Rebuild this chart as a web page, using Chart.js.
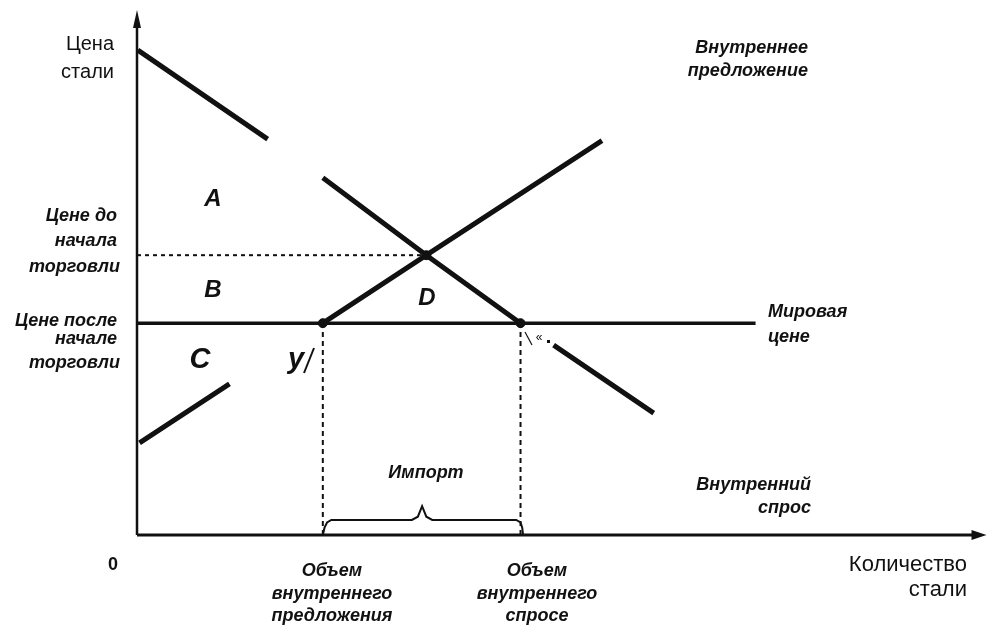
<!DOCTYPE html>
<html>
<head>
<meta charset="utf-8">
<script src="https://cdn.jsdelivr.net/npm/chart.js@4"></script>
<style>
html,body{margin:0;padding:0;background:#fff;}
#wrap{width:991px;height:627px;position:relative;}
</style>
</head>
<body>
<div id="wrap"><canvas id="c" width="991" height="627"></canvas></div>
<script>
// ---- data (quantity 0..100, price 0..100 conceptual units) ----
const demandQ = [0.1, 15.4, 18.0, 21.9, 34.1, 45.2, 47.0, 49.1, 60.9];
const demandP = [92.7, 75.7, null, 68.3, 53.5, 40.5, null, 36.3, 23.3];
const supplyQ = [0.3, 10.9, 16.0, 21.9, 34.1, 54.8];
const supplyP = [17.6, 28.9, null, 40.5, 53.5, 75.4];
const worldPrice = 40.5;
const worldLineEnd = 72.9;
const preTradePrice = 53.5;
const equilibriumQ = 34.1;
const domesticSupplyQ = 21.9;
const domesticDemandQ = 45.2;
const braceQ = [21.9, 22.1, 22.4, 22.9, 32.4, 33.1, 33.6, 34.1, 34.8, 44.7, 45.2, 45.4, 45.5];
const braceP = [0, 1.4, 2.4, 2.87, 2.87, 3.5, 5.5, 3.5, 2.87, 2.87, 2.4, 1.4, 0];

const pts = (xs, ys) => xs.map((x, i) => ({x: x, y: ys[i]}));
const INK = '#111';

const base = {showLine: true, pointRadius: 0, fill: false, borderColor: INK, tension: 0, spanGaps: false, clip: false};

const labelPlugin = {
  id: 'labels',
  afterDatasetsDraw(chart) {
    const ctx = chart.ctx;
    const xs = chart.scales.x, ys = chart.scales.y;
    ctx.save();
    ctx.fillStyle = INK;
    ctx.strokeStyle = INK;
    // arrowheads
    const ax = xs.getPixelForValue(0), ay = ys.getPixelForValue(100);
    ctx.beginPath(); ctx.moveTo(ax, ay - 2); ctx.lineTo(ax - 4, ay + 16); ctx.lineTo(ax + 4, ay + 16); ctx.closePath(); ctx.fill();
    const bx = xs.getPixelForValue(100), by = ys.getPixelForValue(0);
    ctx.beginPath(); ctx.moveTo(bx + 1, by); ctx.lineTo(bx - 14, by - 5); ctx.lineTo(bx - 14, by + 5); ctx.closePath(); ctx.fill();

    const BI = (s) => 'italic bold ' + s + 'px "Liberation Sans", Arial, sans-serif';
    const N = (s) => s + 'px "Liberation Sans", Arial, sans-serif';
    const T = (txt, x, y, font, align, sx) => {
      ctx.save();
      ctx.font = font; ctx.textAlign = align || 'left'; ctx.textBaseline = 'middle';
      ctx.translate(x, y); ctx.scale(sx || 1, 1);
      ctx.fillText(txt, 0, 0);
      ctx.restore();
    };
    T('Цена', 114, 44, N(20), 'right');
    T('стали', 114, 72, N(20), 'right');
    T('Внутреннее', 808, 48, BI(18), 'right');
    T('предложение', 808, 71, BI(18), 'right');
    T('Цене до', 117, 216, BI(18), 'right');
    T('начала', 117, 241, BI(18), 'right');
    T('торговли', 120, 267, BI(18), 'right');
    T('Цене после', 117, 321, BI(18), 'right');
    T('начале', 117, 339, BI(18), 'right');
    T('торговли', 120, 363, BI(18), 'right');
    T('A', 213, 199, BI(24), 'center');
    T('B', 213, 290, BI(24), 'center');
    T('C', 200, 360, BI(29), 'center');
    T('D', 427, 298, BI(24), 'center');
    T('у', 296, 360, BI(29), 'center');
    ctx.lineWidth = 2;
    ctx.beginPath(); ctx.moveTo(304, 373); ctx.lineTo(314, 348); ctx.stroke();
    ctx.lineWidth = 1.2;
    ctx.beginPath(); ctx.moveTo(525, 332); ctx.lineTo(532, 345); ctx.stroke();
    T('«', 539, 338, N(12), 'center');
    ctx.fillRect(547, 340, 3, 3);
    T('Мировая', 768, 312, BI(18), 'left');
    T('цене', 768, 337, BI(18), 'left');
    T('Импорт', 426, 473, BI(18), 'center');
    T('Внутренний', 811, 485, BI(18), 'right');
    T('спрос', 811, 508, BI(18), 'right');
    T('0', 113, 565, 'bold ' + N(18), 'center');
    T('Количество', 967, 565, N(22), 'right');
    T('стали', 967, 590, N(22), 'right');
    T('Объем', 332, 571, BI(18), 'center');
    T('внутреннего', 332, 594, BI(18), 'center');
    T('предложения', 332, 616, BI(18), 'center');
    T('Объем', 537, 571, BI(18), 'center');
    T('внутреннего', 537, 594, BI(18), 'center');
    T('спросе', 537, 616, BI(18), 'center');
    ctx.restore();
  }
};

new Chart(document.getElementById('c'), {
  type: 'scatter',
  data: {
    datasets: [
      Object.assign({}, base, {label: 'ось цены', data: [{x: 0, y: 0}, {x: 0, y: 98}], borderWidth: 2.5}),
      Object.assign({}, base, {label: 'ось количества', data: [{x: 0, y: 0}, {x: 98.5, y: 0}], borderWidth: 3}),
      Object.assign({}, base, {label: 'Внутренний спрос', data: pts(demandQ, demandP), borderWidth: 5}),
      Object.assign({}, base, {label: 'Внутреннее предложение', data: pts(supplyQ, supplyP), borderWidth: 5}),
      Object.assign({}, base, {label: 'Мировая цене', data: [{x: 0, y: worldPrice}, {x: worldLineEnd, y: worldPrice}], borderWidth: 3.5}),
      Object.assign({}, base, {label: 'Цене до начала торговли', data: [{x: 0, y: preTradePrice}, {x: equilibriumQ, y: preTradePrice}], borderWidth: 2, borderDash: [4, 4]}),
      Object.assign({}, base, {label: 'Объем внутреннего предложения', data: [{x: domesticSupplyQ, y: 0}, {x: domesticSupplyQ, y: worldPrice}], borderWidth: 2, borderDash: [5, 4]}),
      Object.assign({}, base, {label: 'Объем внутреннего спросе', data: [{x: domesticDemandQ, y: 0}, {x: domesticDemandQ, y: worldPrice}], borderWidth: 2, borderDash: [5, 4]}),
      Object.assign({}, base, {label: 'Импорт', data: pts(braceQ, braceP), borderWidth: 2}),
      {label: 'точки', data: [{x: domesticSupplyQ, y: worldPrice}, {x: equilibriumQ, y: preTradePrice}, {x: domesticDemandQ, y: worldPrice}],
       showLine: false, pointRadius: 4.5, pointStyle: 'circle', backgroundColor: INK, borderColor: INK, clip: false}
    ]
  },
  options: {
    responsive: false,
    animation: false,
    events: [],
    layout: {padding: {left: 137, right: 3, top: 12, bottom: 92}},
    scales: {
      x: {type: 'linear', min: 0, max: 100, display: false},
      y: {type: 'linear', min: 0, max: 100, display: false}
    },
    plugins: {legend: {display: false}, tooltip: {enabled: false}}
  },
  plugins: [labelPlugin]
});
</script>
</body>
</html>
